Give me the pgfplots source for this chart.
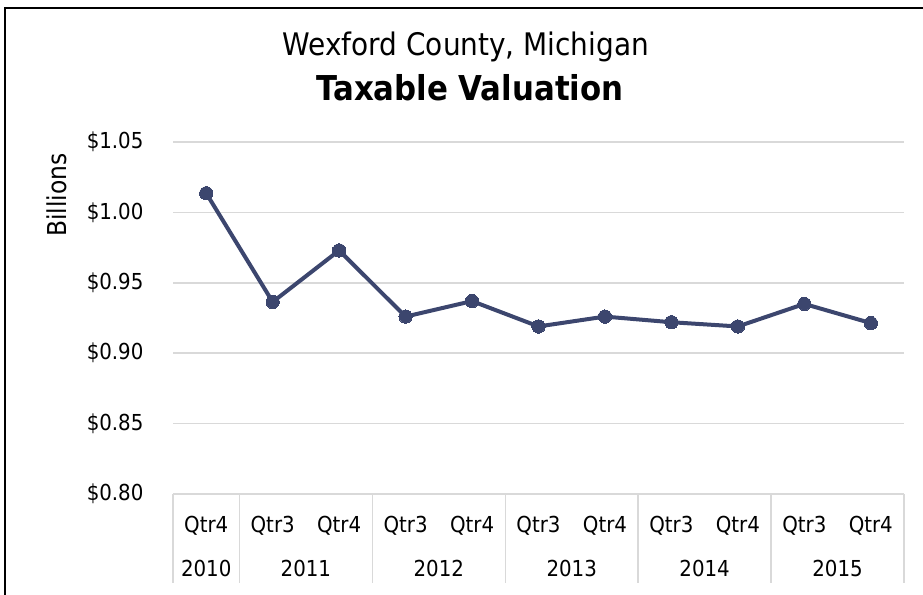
\documentclass[border=0pt]{standalone}
\usepackage{pgfplots}
\pgfplotsset{compat=1.18}
\usepackage{fontspec}
\setmainfont{DejaVu Sans Condensed}
\definecolor{navy}{RGB}{60,70,110}
\definecolor{gridgray}{RGB}{217,217,217}
\begin{document}
\begin{tikzpicture}
\begin{scope}[x=0.75pt,y=0.75pt]
% frame (top and left visible)
\draw[line width=1.5pt,black] (5,-10) -- (5,586) -- (935,586);
% titles
\node[font=\fontsize{23.3}{28}\selectfont] at (466,547) {Wexford County, Michigan};
\node[font=\fontsize{25.7}{30}\selectfont\bfseries] at (470,506) {Taxable Valuation};
\node[rotate=90,font=\fontsize{19.5}{23}\selectfont] at (57,399) {Billions};
\end{scope}
\begin{axis}[
  at={(129.75pt,75pt)}, anchor=south west,
  scale only axis, width=548.25pt, height=264pt,
  xmin=-0.5, xmax=10.5, ymin=0.80, ymax=1.05,
  clip=false,
  axis line style={draw=none},
  xtick={0,...,10}, xticklabels={Qtr4,Qtr3,Qtr4,Qtr3,Qtr4,Qtr3,Qtr4,Qtr3,Qtr4,Qtr3,Qtr4},
  ytick={0.80,0.85,0.90,0.95,1.00,1.05},
  yticklabels={\$0.80,\$0.85,\$0.90,\$0.95,\$1.00,\$1.05},
  major tick length=0pt,
  ymajorgrids, grid style={gridgray, line width=1.1pt},
  tick label style={font=\fontsize{16.5}{20}\selectfont},
  yticklabel style={anchor=east, inner sep=0pt, xshift=-22pt},
  xticklabel style={anchor=base, inner sep=0pt, yshift=-28.5pt},
]
\addplot[navy, line width=3pt, mark=*, mark size=5pt, mark options={fill=navy, draw=navy, line width=0pt}]
  coordinates {(0,1.0136) (1,0.9364) (2,0.973) (3,0.926) (4,0.937) (5,0.919) (6,0.926) (7,0.922) (8,0.919) (9,0.935) (10,0.9214)};
% category axis separators
\pgfplotsinvokeforeach{-0.5,0.5,2.5,4.5,6.5,8.5,10.5}{
  \draw[gridgray, line width=1.1pt] (axis cs:#1,0.80) -- ([yshift=-66.75pt]axis cs:#1,0.80);
}
\draw[gridgray, line width=1.1pt] (axis cs:-0.5,0.80) -- (axis cs:10.5,0.80);
\node[anchor=base, inner sep=0pt, font=\fontsize{16.5}{20}\selectfont] at ([yshift=-62pt]axis cs:0,0.80) {2010};
\node[anchor=base, inner sep=0pt, font=\fontsize{16.5}{20}\selectfont] at ([yshift=-62pt]axis cs:1.5,0.80) {2011};
\node[anchor=base, inner sep=0pt, font=\fontsize{16.5}{20}\selectfont] at ([yshift=-62pt]axis cs:3.5,0.80) {2012};
\node[anchor=base, inner sep=0pt, font=\fontsize{16.5}{20}\selectfont] at ([yshift=-62pt]axis cs:5.5,0.80) {2013};
\node[anchor=base, inner sep=0pt, font=\fontsize{16.5}{20}\selectfont] at ([yshift=-62pt]axis cs:7.5,0.80) {2014};
\node[anchor=base, inner sep=0pt, font=\fontsize{16.5}{20}\selectfont] at ([yshift=-62pt]axis cs:9.5,0.80) {2015};
\end{axis}
\pgfresetboundingbox
\useasboundingbox (0,0) rectangle (692.25pt,445.5pt);
\end{tikzpicture}
\end{document}
